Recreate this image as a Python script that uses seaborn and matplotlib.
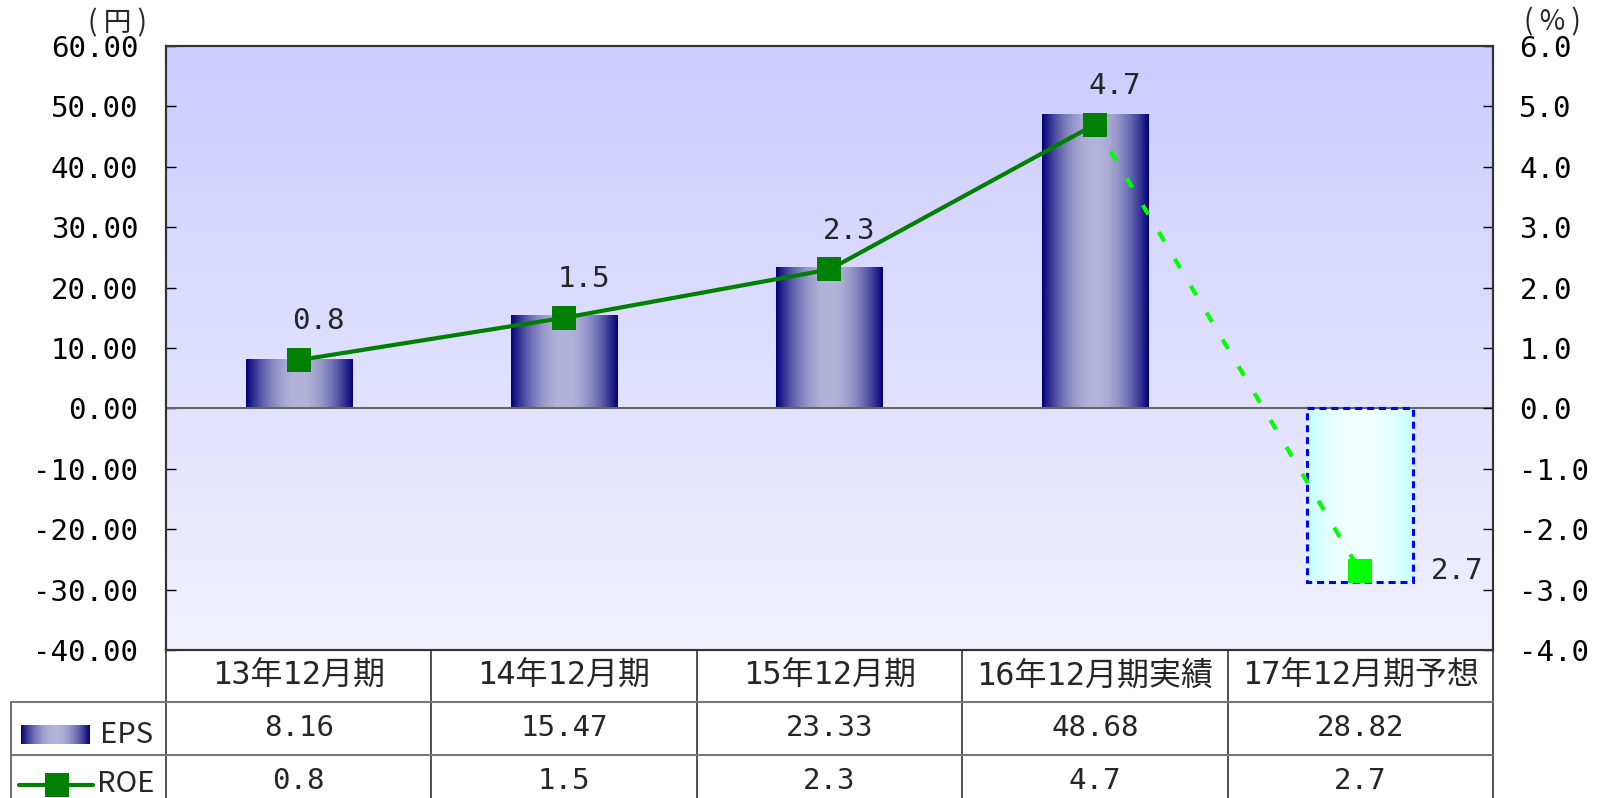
import numpy as np
import matplotlib
matplotlib.use('Agg')
import matplotlib.pyplot as plt
import matplotlib.colors as mcolors
from matplotlib.lines import Line2D
import seaborn as sns
import pandas as pd

# data
categories = ['13年12月期', '14年12月期', '15年12月期', '16年12月期実績', '17年12月期予想']
eps = [8.16, 15.47, 23.33, 48.68, -28.82]   # forecast drawn below zero
roe = [0.8, 1.5, 2.3, 4.7, -2.7]
eps_ticks = np.arange(-40, 61, 10)
roe_ticks = np.arange(-4, 7, 1)

sns.set_style('white')
plt.rcParams['font.family'] = ['Noto Sans CJK JP', 'DejaVu Sans']
plt.rcParams['axes.unicode_minus'] = False
FS = 21
NUM = ['DejaVu Sans Mono', 'Noto Sans CJK JP']   # wide-spaced digits like the original

W, H = 1606, 798
L, R, T, B = 166, 1493, 46, 650
fig = plt.figure(figsize=(W / 100, H / 100), dpi=100)
ax = fig.add_axes([L / W, 1 - B / H, (R - L) / W, (B - T) / H])


def cylinder(edge, mid, p=2.0, n=256):
    t = np.abs(np.linspace(-1, 1, n)) ** p
    e = np.array(mcolors.to_rgb(edge))
    m = np.array(mcolors.to_rgb(mid))
    return (m + (e - m) * t[:, None])[None, :, :]


# background gradient
top_c = np.array(mcolors.to_rgb('#CCCCFF'))
bot_c = np.array(mcolors.to_rgb('#F1F1FF'))
s = np.linspace(0, 1, 256)[:, None]
bg = (top_c + (bot_c - top_c) * s)[:, None, :]
ax.imshow(bg, extent=(-0.5, 4.5, -40, 60), aspect='auto', zorder=0)

df = pd.DataFrame({'period': categories, 'eps': eps})
sns.barplot(data=df, x='period', y='eps', order=categories, ax=ax,
            width=0.4, color='navy', errorbar=None)

navy_grad = cylinder('#000078', '#B4B4DA')
cyan_grad = cylinder('#C4FFFF', '#F2FFFF')
for bar in list(ax.patches):
    x0, w = bar.get_x(), bar.get_width()
    y0, h = bar.get_y(), bar.get_height()
    grad = cyan_grad if h < 0 else navy_grad
    img = ax.imshow(grad, extent=(x0, x0 + w, min(y0, y0 + h), max(y0, y0 + h)),
                    aspect='auto', zorder=1.5, interpolation='bilinear')
    img.set_clip_path(bar)
    bar.set_facecolor('none')
    bar.set_zorder(2)
    if h < 0:
        bar.set_edgecolor('#0000FF')
        bar.set_linewidth(2.2)
        bar.set_linestyle((0, (2.3, 1.6)))
    else:
        bar.set_edgecolor('none')

ax.axhline(0, color='#666666', lw=1.5, zorder=1.8)
ax.set_xlim(-0.5, 4.5)
ax.set_ylim(-40, 60)
ax.set_yticks(eps_ticks)
ax.set_yticklabels([f'{v:.2f}' for v in eps_ticks], fontsize=FS, family=NUM)
ax.set_xticks([])
ax.set_xlabel('')
ax.set_ylabel('')
ax.tick_params(axis='y', left=True, direction='in', length=7, width=1,
               pad=20, color='black', labelcolor='black')

# ROE line on right axis
ax2 = ax.twinx()
xs = np.arange(len(categories))
sns.lineplot(x=xs[3:], y=roe[3:], ax=ax2, color='#00FF00', lw=3,
             linestyle=(0, (2.6, 4.9)), zorder=2)
sns.lineplot(x=xs[:4], y=roe[:4], ax=ax2, color='#008000', lw=3,
             marker='s', markersize=17, markeredgewidth=0, zorder=3)
ax2.plot(xs[4], roe[4], 's', color='#00FF00', ms=17, mew=0, zorder=3)
ax2.set_ylim(-4, 6)
ax2.set_xlim(-0.5, 4.5)
ax2.set_yticks(roe_ticks)
ax2.set_yticklabels([f'{v:.1f}' for v in roe_ticks], fontsize=FS, family=NUM)
ax2.set_ylabel('')
ax2.tick_params(axis='y', right=True, direction='in', length=7, width=1,
                pad=19, color='black', labelcolor='black')

for i in range(4):
    ax2.annotate(f'{roe[i]:.1f}', (xs[i], roe[i]), xytext=(14, 28),
                 textcoords='offset points', ha='center', va='center',
                 fontsize=FS, family=NUM)
ax2.annotate(f'{abs(roe[4]):.1f}', (xs[4], roe[4]), xytext=(70, 0),
             textcoords='offset points', ha='center', va='center',
             fontsize=FS, family=NUM)

for a in (ax, ax2):
    for sp in a.spines.values():
        sp.set_color('#333333')
        sp.set_linewidth(1.5)

# unit labels
fig.text(118 / W, 1 - 23 / H, '( 円 )', ha='center', va='center', fontsize=20)
fig.text(1552 / W, 1 - 22 / H, '( % )', ha='center', va='center', fontsize=20)

# data table under the plot
tx = ax.get_xaxis_transform()
ph = B - T
y_hdr = -52 / ph
y_eps = -105 / ph
y_end = -160 / ph
x_leg = -0.5 - 155 / ((R - L) / 5)

for xb in np.arange(-0.5, 5, 1):
    ax.plot([xb, xb], [0, y_end], transform=tx, color='#333333', lw=1.2, clip_on=False)
ax.plot([x_leg, x_leg], [y_hdr, y_end], transform=tx, color='#555555', lw=1.2, clip_on=False)
for yb in (y_hdr, y_eps):
    ax.plot([x_leg, 4.5], [yb, yb], transform=tx, color='#777777', lw=1.5, clip_on=False)

for i, cat in enumerate(categories):
    ax.text(i, y_hdr / 2, cat, transform=tx, ha='center', va='center',
            fontsize=23, family=NUM)
    ax.text(i, (y_hdr + y_eps) / 2, f'{abs(eps[i]):.2f}', transform=tx,
            ha='center', va='center', fontsize=FS, family=NUM)
    ax.text(i, -131 / ph, f'{abs(roe[i]):.1f}', transform=tx,
            ha='center', va='center', fontsize=FS, family=NUM)

# legend glyphs in the table
gax = fig.add_axes([21 / W, 1 - 744 / H, 69 / W, 19 / H])
gax.imshow(navy_grad, aspect='auto', interpolation='bilinear')
gax.axis('off')
fig.text(100 / W, 1 - 735 / H, 'EPS', ha='left', va='center', fontsize=FS)
fig.add_artist(Line2D([19 / W, 93 / W], [1 - 785 / H] * 2, color='#008000', lw=3,
                      transform=fig.transFigure))
fig.add_artist(Line2D([57 / W], [1 - 785 / H], color='#008000', marker='s', ms=17,
                      mew=0, transform=fig.transFigure))
fig.text(97 / W, 1 - 784 / H, 'ROE', ha='left', va='center', fontsize=FS)

fig.savefig('out.png', dpi=100)
